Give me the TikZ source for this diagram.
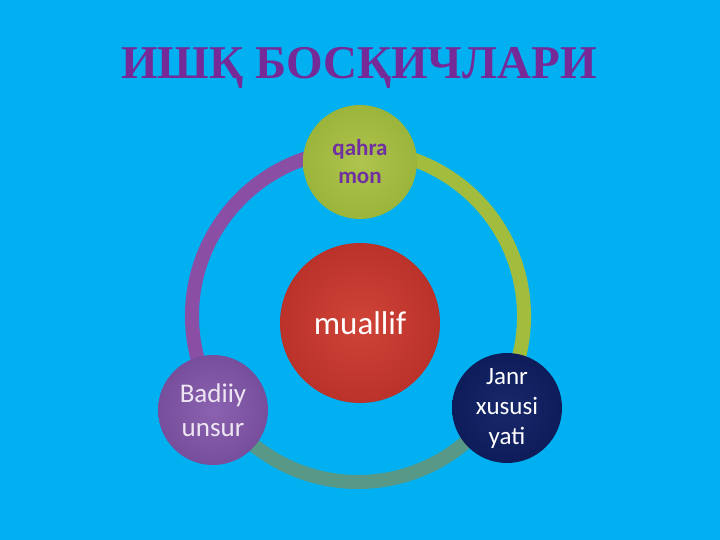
\documentclass[tikz,border=0pt]{standalone}
\usepackage{fontspec}
\setmainfont{Carlito}
\newfontfamily\titlefont{Liberation Serif}
\usetikzlibrary{shadings}
\definecolor{bg}{RGB}{0,176,240}
\definecolor{titlecol}{RGB}{118,42,152}
\definecolor{qtext}{RGB}{112,48,160}
\definecolor{ringpurple}{RGB}{138,78,164}
\definecolor{ringgreen}{RGB}{162,188,62}
\definecolor{ringteal}{RGB}{88,152,134}
\definecolor{redout}{RGB}{186,50,42}
\definecolor{redin}{RGB}{208,68,56}
\definecolor{greenout}{RGB}{155,180,58}
\definecolor{greenin}{RGB}{174,196,78}
\definecolor{purpout}{RGB}{118,78,156}
\definecolor{purpin}{RGB}{138,98,176}
\definecolor{navyout}{RGB}{14,28,90}
\definecolor{navyin}{RGB}{24,40,106}
\definecolor{lighttext}{RGB}{238,230,242}
\tikzset{
  ringseg/.style={line width=14pt},
  bubble/.style={circle, draw=none, inner sep=0pt, align=center},
  titlestyle/.style={font=\titlefont\bfseries\fontsize{47}{50}\selectfont},
}
\begin{document}
\begin{tikzpicture}[x=1pt,y=-1pt]
\fill[bg] (0,0) rectangle (720,540);
\useasboundingbox (0,0) rectangle (720,540);
% title
\node[titlestyle, text=titlecol] (title) at (359,68) {ИШҚ БОСҚИЧЛАРИ};
% ring
\coordinate (ringc) at (358,316);
\draw[ringseg, ringpurple] (ringc) ++(90:166pt) arc[start angle=90, end angle=213, radius=166pt];
\draw[ringseg, ringgreen] (ringc) ++(-32:166pt) arc[start angle=-32, end angle=90, radius=166pt];
\draw[ringseg, ringteal] (ringc) ++(213:166pt) arc[start angle=213, end angle=328, radius=166pt];
% nodes
\node[bubble, minimum size=114pt, inner color=greenin, outer color=greenout, text=qtext, font=\bfseries\fontsize{23}{28}\selectfont] (qahra) at (360,162) {qahra\\mon};
\node[bubble, minimum size=160pt, inner color=redin, outer color=redout, text=white, font=\fontsize{33}{40}\selectfont] (muallif) at (360,323) {muallif};
\node[bubble, minimum size=110pt, inner color=purpin, outer color=purpout, text=lighttext, font=\fontsize{27}{34}\selectfont] (badiiy) at (213,410) {Badiiy\\unsur};
\node[bubble, minimum size=110pt, inner color=navyin, outer color=navyout, text=white, font=\fontsize{25}{30}\selectfont] (janr) at (507,408) {Janr\\xususi\\yati};
\end{tikzpicture}
\end{document}
